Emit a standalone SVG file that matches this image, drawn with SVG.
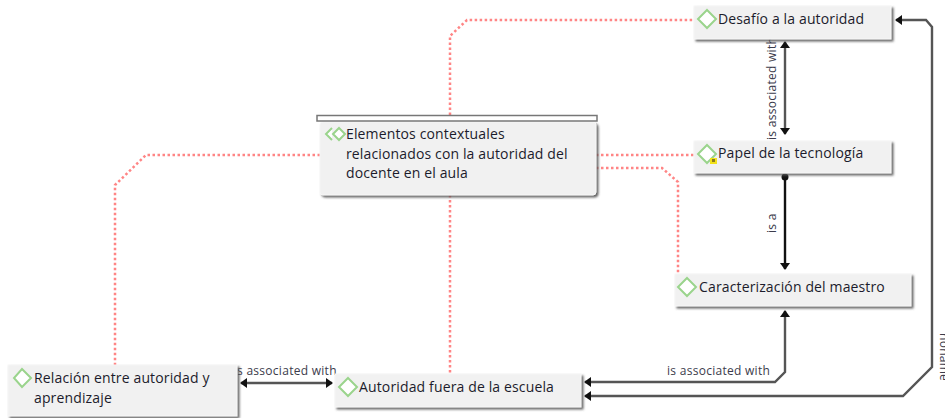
<svg xmlns="http://www.w3.org/2000/svg" width="945" height="418" viewBox="0 0 945 418">
<style>
.n{fill:#f1f1f1;stroke:#f6f6f6;stroke-width:1;filter:url(#s)}
.t{font-family:"Open Sans","Noto Sans",sans-serif;font-size:14px;letter-spacing:.14px;fill:#1c1c2c}
.l{font-family:"Open Sans","Noto Sans",sans-serif;font-size:12px;letter-spacing:.28px;fill:#3c3c4c}
.d{fill:#fff;stroke:#9ad48c;stroke-width:2}
.p{fill:none;stroke:#ff8585;stroke-width:2.500;stroke-dasharray:2.500 2.500}
.c{fill:none;stroke:#555;stroke-width:2.400}
.b{stroke:#111}
</style>
<defs>
<filter id="s" x="-5%" y="-10%" width="110%" height="125%"><feDropShadow dx="2" dy="2" stdDeviation="1" flood-color="#555" flood-opacity=".9"/></filter>
<marker id="a" markerUnits="userSpaceOnUse" markerWidth="10" markerHeight="12" refX="7" refY="6" orient="auto-start-reverse"><path d="M1 1L8 6L1 11Z" fill="#111"/></marker>
</defs>
<rect width="945" height="418" fill="#fff"/>
<g id="connectors">
<path class="p" d="M450 115V36L467 20H694"/>
<path class="p" d="M320 155H146L115 185V365"/>
<path class="p" d="M596 155H694"/>
<path class="p" d="M596 168H662L678 182V274"/>
<path class="p" d="M450 195V374"/>
<path class="c" d="M785 42V134" marker-start="url(#a)" marker-end="url(#a)"/>
<path class="c b" d="M785 177V269" marker-end="url(#a)"/>
<circle cx="785" cy="177" r="3.500" fill="#111"/>
<path class="c" d="M241 383H332" marker-start="url(#a)" marker-end="url(#a)"/>
<path class="c" d="M785 311V372L775 382H585" marker-start="url(#a)" marker-end="url(#a)"/>
<path class="c" d="M585 396H903L932 367V27L926 20H896" marker-start="url(#a)" marker-end="url(#a)"/>
<text class="l" x="237" y="375">s associated with</text>
<text class="l" x="667" y="375">is associated with</text>
<text class="l" transform="translate(776 140) rotate(-90)">is associated with</text>
<text class="l" transform="translate(776 233) rotate(-90)">is a</text>
<text class="l" transform="translate(940 333) rotate(90)">noname</text>
</g>
<g id="desafio">
<rect class="n" x="694" y="6" width="197" height="33"/>
<path class="d" d="M707 10L716 19L707 28L698 19Z"/>
<text class="t" x="718" y="24">Desafío a la autoridad</text>
</g>
<g id="papel">
<rect class="n" x="694" y="141" width="197" height="32"/>
<path class="d" d="M707 145L716 154L707 163L698 154Z"/>
<rect x="710" y="158" width="7" height="6" fill="#f2e21a"/>
<rect x="712" y="159" width="3" height="3" fill="#8a7a20"/>
<text class="t" x="718" y="158">Papel de la tecnología</text>
</g>
<g id="caracterizacion">
<rect class="n" x="675" y="274" width="236" height="32"/>
<path class="d" d="M687 278L696 287L687 296L678 287Z"/>
<text class="t" x="699" y="292">Caracterización del maestro</text>
</g>
<g id="elementos">
<rect class="n" x="320" y="122" width="276" height="73" rx="3"/>
<rect x="317" y="115.500" width="280" height="5.500" fill="#fff" stroke="#777" stroke-width="1.500"/>
<path class="d" d="M332 128L326 134L332 140" fill="none"/>
<path class="d" d="M339 128L345 134L339 140L333 134Z"/>
<text class="t" x="346" y="139">Elementos contextuales</text>
<text class="t" x="346" y="159">relacionados con la autoridad del</text>
<text class="t" x="346" y="178">docente en el aula</text>
</g>
<g id="relacion">
<rect class="n" x="8" y="365" width="229" height="51"/>
<path class="d" d="M22 369L31 378L22 387L14 378Z"/>
<text class="t" x="34" y="383">Relación entre autoridad y</text>
<text class="t" x="34" y="403">aprendizaje</text>
</g>
<g id="autoridad">
<rect class="n" x="335" y="374" width="246" height="33"/>
<path class="d" d="M348 378L357 387L348 396L339 387Z"/>
<text class="t" x="359" y="392">Autoridad fuera de la escuela</text>
</g>
</svg>
